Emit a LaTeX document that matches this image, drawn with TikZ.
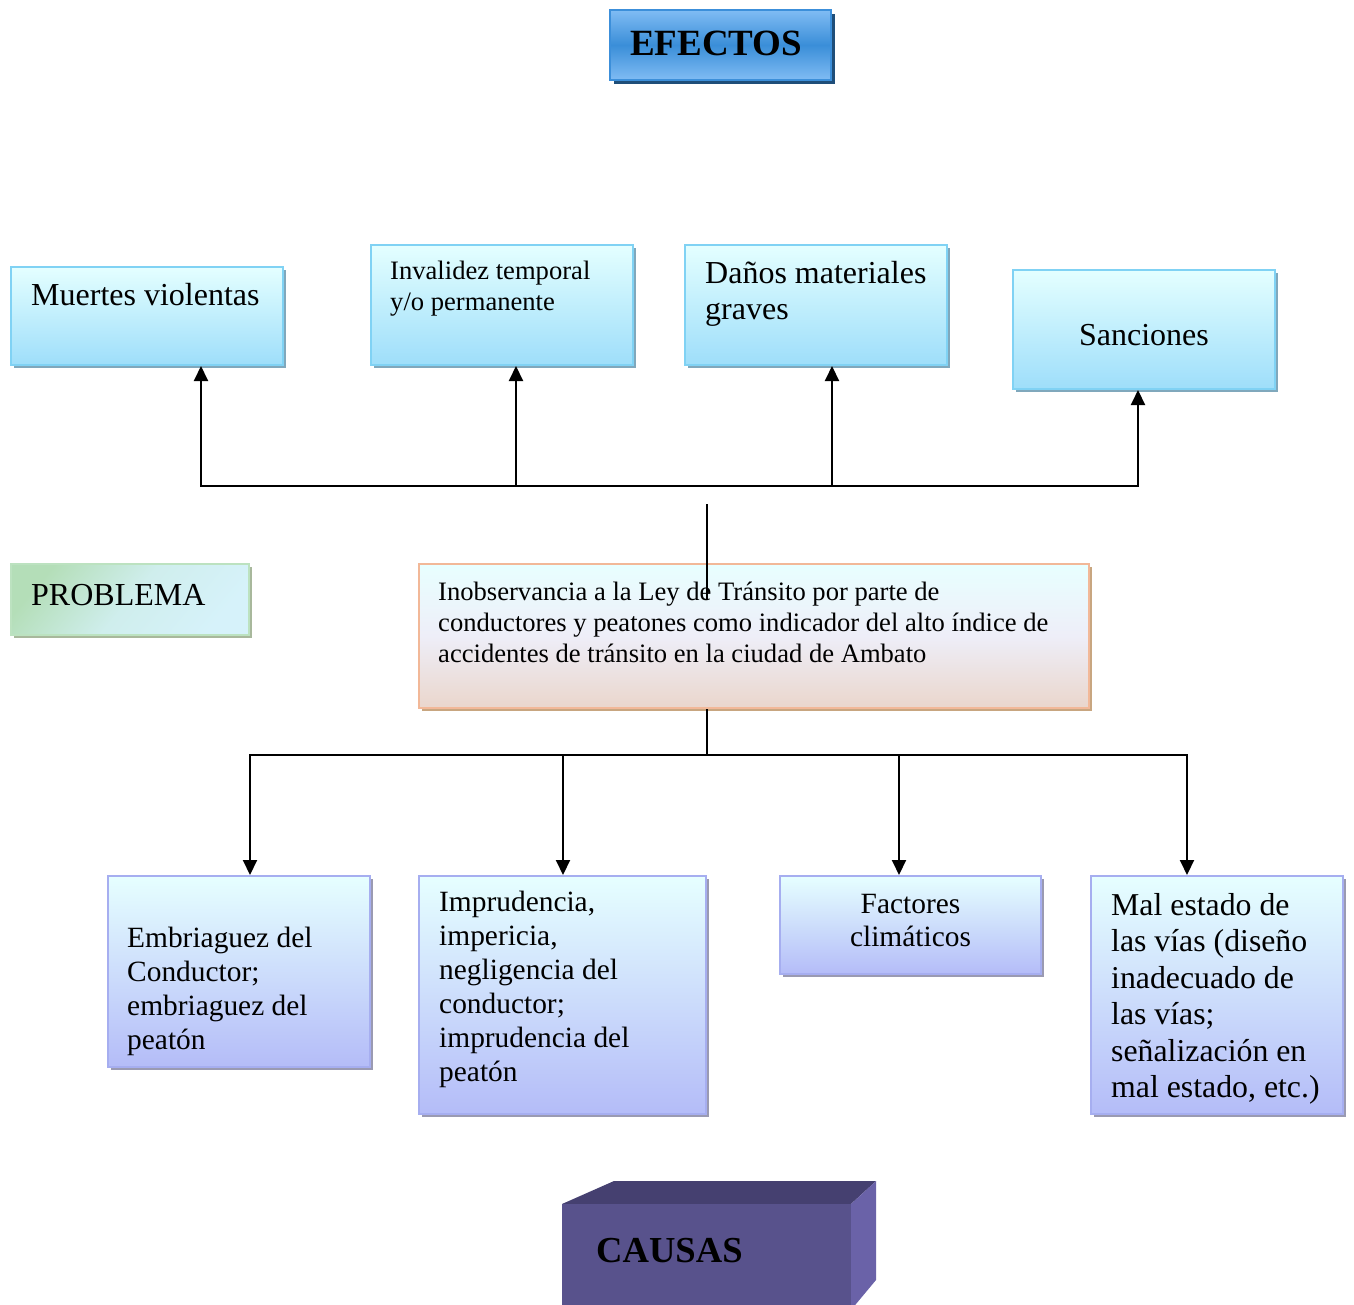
\documentclass[tikz,border=0pt]{standalone}
\usepackage{fontspec}
\setmainfont{Liberation Serif}
\usetikzlibrary{arrows.meta,shadows}
\definecolor{efTop}{HTML}{80BCF4}
\definecolor{efMid}{HTML}{3A8ED8}
\definecolor{efBorder}{HTML}{3C8FDA}
\definecolor{efShadow}{HTML}{1F4E79}
\definecolor{eTop}{HTML}{E4FFFF}
\definecolor{eBot}{HTML}{9EDEFA}
\definecolor{eBorder}{HTML}{80D2F4}
\definecolor{eShadow}{HTML}{80A8BC}
\definecolor{cTop}{HTML}{E6FFFF}
\definecolor{cBot}{HTML}{B4BCF8}
\definecolor{cBorder}{HTML}{A6AEF0}
\definecolor{cShadow}{HTML}{9A9AB2}
\definecolor{pTop}{HTML}{E8FFFF}
\definecolor{pMid}{HTML}{EEEEF8}
\definecolor{pBot}{HTML}{EAD6CC}
\definecolor{pBorder}{HTML}{F2B898}
\definecolor{pShadow}{HTML}{C8A680}
\definecolor{plG}{HTML}{B4DEB8}
\definecolor{plB}{HTML}{D6F2FA}
\definecolor{plBorder}{HTML}{BCE2C0}
\definecolor{plShadow}{HTML}{A8B89C}
\definecolor{caFront}{HTML}{58528C}
\definecolor{caTop}{HTML}{454070}
\definecolor{caRight}{HTML}{6A62A8}
\begin{document}
\begin{tikzpicture}[x=1pt,y=-1pt,
  boxbase/.style={rectangle, inner sep=0pt, line width=2pt},
  efbox/.style={boxbase, draw=efBorder, top color=efTop, bottom color=efTop, middle color=efMid,
     general shadow={fill=efShadow, shadow xshift=4pt, shadow yshift=-4pt}},
  ebox/.style={boxbase, draw=eBorder, top color=eTop, bottom color=eBot,
     general shadow={fill=eShadow, shadow xshift=3pt, shadow yshift=-3pt}},
  cbox/.style={boxbase, draw=cBorder, top color=cTop, bottom color=cBot,
     general shadow={fill=cShadow, shadow xshift=3pt, shadow yshift=-3pt}},
  pbox/.style={boxbase, draw=pBorder, top color=pTop, bottom color=pBot, middle color=pMid,
     general shadow={fill=pShadow, shadow xshift=3pt, shadow yshift=-3pt}},
  plbox/.style={boxbase, draw=plBorder, top color=plG, bottom color=plB, middle color=plB!80!plG, shading angle=50,
     general shadow={fill=plShadow, shadow xshift=3pt, shadow yshift=-3pt}},
  txt/.style={inner sep=0pt, anchor=base west},
  big/.style={font=\fontsize{32}{34}\selectfont},
  bigc/.style={font=\fontsize{29.4}{34}\selectfont},
  mid/.style={font=\fontsize{26.6}{31}\selectfont},
  conn/.style={line width=2pt, line cap=rect},
  arr/.style={line width=2pt, -{Triangle[length=15pt,width=14pt]}}
]
\useasboundingbox (0,0) rectangle (1354,1305);

% EFECTOS
\node[efbox, minimum width=221pt, minimum height=70pt] (ef) at (720.5,45) {};
\node[txt, font=\fontsize{37}{40}\selectfont\bfseries] (eft) at (630,56) {EFECTOS};

% effects boxes
\node[ebox, minimum width=272pt, minimum height=98pt] (m1) at (147,316) {};
\node[txt, big] (m1t) at (31,306) {Muertes violentas};
\node[ebox, minimum width=262pt, minimum height=120pt] (m2) at (502,305) {};
\node[txt, mid] (m2t) at (390,280) {\begin{tabular}[t]{@{}l@{}}Invalidez temporal\\ y/o permanente\end{tabular}};
\node[ebox, minimum width=262pt, minimum height=120pt] (m3) at (816,305) {};
\node[txt, font=\fontsize{32}{36}\selectfont] (m3t) at (705,284) {\begin{tabular}[t]{@{}l@{}}Daños materiales\\ graves\end{tabular}};
\node[ebox, minimum width=262pt, minimum height=119pt] (m4) at (1144,329.5) {};
\node[inner sep=0pt, anchor=base, big] (m4t) at (1144,345) {Sanciones};

% connectors effects
\coordinate (ta) at (201,486);
\coordinate (tb) at (516,486);
\coordinate (tc) at (832,486);
\coordinate (td) at (1138,486);
\draw[conn] (ta) -- (td);
\draw[arr] (ta) -- (ta |- m1.south);
\draw[arr] (tb) -- (tb |- m2.south);
\draw[arr] (tc) -- (tc |- m3.south);
\draw[arr] (td) -- (td |- m4.south);

% PROBLEMA
\node[plbox, minimum width=238pt, minimum height=71pt] (pl) at (130,599.5) {};
\node[txt, big] (plt) at (31,605) {PROBLEMA};

% problem box
\node[pbox, minimum width=670pt, minimum height=144pt] (pb) at (754,636) {};
\node[txt, mid] (pbt) at (438,600) {\begin{tabular}[t]{@{}l@{}}Inobservancia a la Ley de Tránsito por parte de\\ conductores y peatones como indicador del alto índice de\\ accidentes de tránsito en la ciudad de Ambato\end{tabular}};

\coordinate (cu1) at (707,504);
\coordinate (cu2) at (707,600);
\draw[conn, line cap=butt] (cu1) -- (cu2);

% causes boxes
\node[cbox, minimum width=262pt, minimum height=191pt] (c1) at (239,971.5) {};
\node[txt, bigc] (c1t) at (127,947) {\begin{tabular}[t]{@{}l@{}}Embriaguez del\\ Conductor;\\ embriaguez del\\ peatón\end{tabular}};
\node[cbox, minimum width=287pt, minimum height=238pt] (c2) at (562.5,995) {};
\node[txt, bigc] (c2t) at (439,911) {\begin{tabular}[t]{@{}l@{}}Imprudencia,\\ impericia,\\ negligencia del\\ conductor;\\ imprudencia del\\ peatón\end{tabular}};
\node[cbox, minimum width=261pt, minimum height=98pt] (c3) at (910.5,925) {};
\node[inner sep=0pt, anchor=base, font=\fontsize{29.4}{33}\selectfont] (c3t) at (910.5,913) {\begin{tabular}[t]{@{}c@{}}Factores\\ climáticos\end{tabular}};
\node[cbox, minimum width=252pt, minimum height=238pt] (c4) at (1217,995) {};
\node[txt, font=\fontsize{31.8}{36.5}\selectfont] (c4t) at (1111,915) {\begin{tabular}[t]{@{}l@{}}Mal estado de\\ las vías (diseño\\ inadecuado de\\ las vías;\\ señalización en\\ mal estado, etc.)\end{tabular}};

% connectors causes
\coordinate (bh) at (707,755);
\coordinate (ba) at (250,755);
\coordinate (bb) at (563,755);
\coordinate (bc) at (899,755);
\coordinate (bd) at (1187,755);
\draw[conn, line cap=butt] (bh |- pb.south) -- (bh);
\draw[conn] (ba) -- (bd);
\draw[arr] (ba) -- (ba |- c1.north);
\draw[arr] (bb) -- (bb |- c2.north);
\draw[arr] (bc) -- (bc |- c3.north);
\draw[arr] (bd) -- (bd |- c4.north);

% CAUSAS 3D block
\fill[caTop] (562,1204) -- (614,1181) -- (876,1181) -- (851,1204) -- cycle;
\fill[caRight] (851,1204) -- (876,1181) -- (876,1280) -- (851,1310) -- cycle;
\fill[caFront] (562,1204) rectangle (851,1310);
\node[txt, font=\fontsize{36.6}{40}\selectfont\bfseries] (ca) at (596,1262) {CAUSAS};
\end{tikzpicture}
\end{document}
